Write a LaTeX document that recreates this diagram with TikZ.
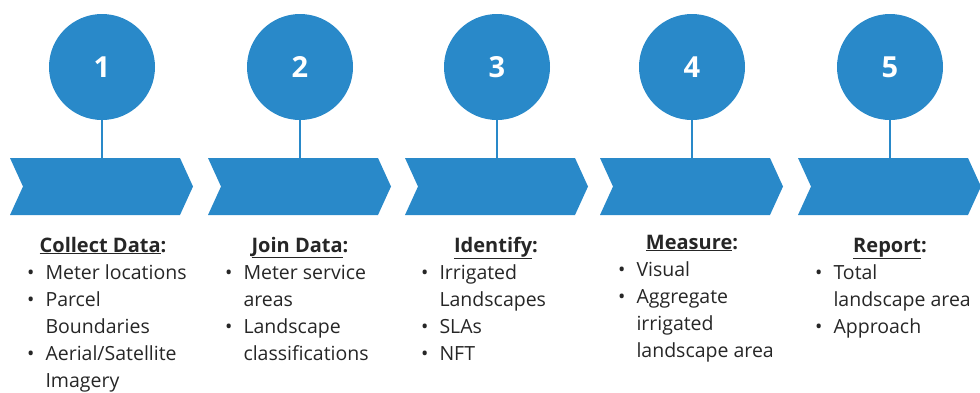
\documentclass[tikz,border=0pt]{standalone}
\usepackage{fontspec}
\setmainfont{Open Sans}
\usetikzlibrary{calc}
\definecolor{StepClr}{RGB}{41,137,201}
\definecolor{TextClr}{RGB}{38,38,38}

\newcommand{\Chevron}[2]{%
\fill[StepClr] (#1-92,158) -- (#1+78,158) -- (#1+91,186.5) -- (#1+78,215)
  -- (#1-92,215) -- (#1-79,186.5) -- cycle;
\coordinate (#2) at (#1,158);}
\newcommand{\Head}[1]{\underline{#1}:}

\begin{document}
\begin{tikzpicture}[x=1pt,y=-1pt,
  stepnum/.style={circle,fill=StepClr,minimum size=106pt,inner sep=0pt,
    text=white,font=\fontsize{29}{29}\selectfont\bfseries},
  stem/.style={draw=StepClr,line width=2.5pt},
  head/.style={anchor=base,inner sep=0pt,text=TextClr,
    font=\fontsize{20}{27}\selectfont\bfseries},
  items/.style={anchor=base west,inner sep=0pt,text=TextClr,
    font=\fontsize{19.5}{27}\selectfont}]
\useasboundingbox (0,0) rectangle (980,392);

\Chevron{102}{T1}
\Chevron{300}{T2}
\Chevron{497}{T3}
\Chevron{692}{T4}
\Chevron{890}{T5}

\node[stepnum] (N1) at (102,67) {1};
\node[stepnum] (N2) at (300,67) {2};
\node[stepnum] (N3) at (497,67) {3};
\node[stepnum] (N4) at (692,67) {4};
\node[stepnum] (N5) at (890,67) {5};

\draw[stem] (N1) -- (T1);
\draw[stem] (N2) -- (T2);
\draw[stem] (N3) -- (T3);
\draw[stem] (N4) -- (T4);
\draw[stem] (N5) -- (T5);

\node[head] (H1) at (103,252) {\Head{Collect Data}};
\node[head] (H2) at (300,252) {\Head{Join Data}};
\node[head] (H3) at (496,252) {\Head{Identify}};
\node[head] (H4) at (692,249) {\Head{Measure}};
\node[head] (H5) at (890,252) {\Head{Report}};

\node[items] (L1) at (27,279) {\begin{tabular}[t]{@{}l@{\hspace{11pt}}l@{}}
  \textbullet & Meter locations\\ \textbullet & Parcel\\ & Boundaries\\
  \textbullet & Aerial/Satellite\\ & Imagery\end{tabular}};
\node[items] (L2) at (225,279) {\begin{tabular}[t]{@{}l@{\hspace{11pt}}l@{}}
  \textbullet & Meter service\\ & areas\\ \textbullet & Landscape\\
  & classifications\end{tabular}};
\node[items] (L3) at (421,279) {\begin{tabular}[t]{@{}l@{\hspace{11pt}}l@{}}
  \textbullet & Irrigated\\ & Landscapes\\ \textbullet & SLAs\\
  \textbullet & NFT\end{tabular}};
\node[items] (L4) at (618,276) {\begin{tabular}[t]{@{}l@{\hspace{11pt}}l@{}}
  \textbullet & Visual\\ \textbullet & Aggregate\\ & irrigated\\
  & landscape area\end{tabular}};
\node[items] (L5) at (815,279) {\begin{tabular}[t]{@{}l@{\hspace{11pt}}l@{}}
  \textbullet & Total\\ & landscape area\\ \textbullet & Approach\end{tabular}};

\end{tikzpicture}
\end{document}
